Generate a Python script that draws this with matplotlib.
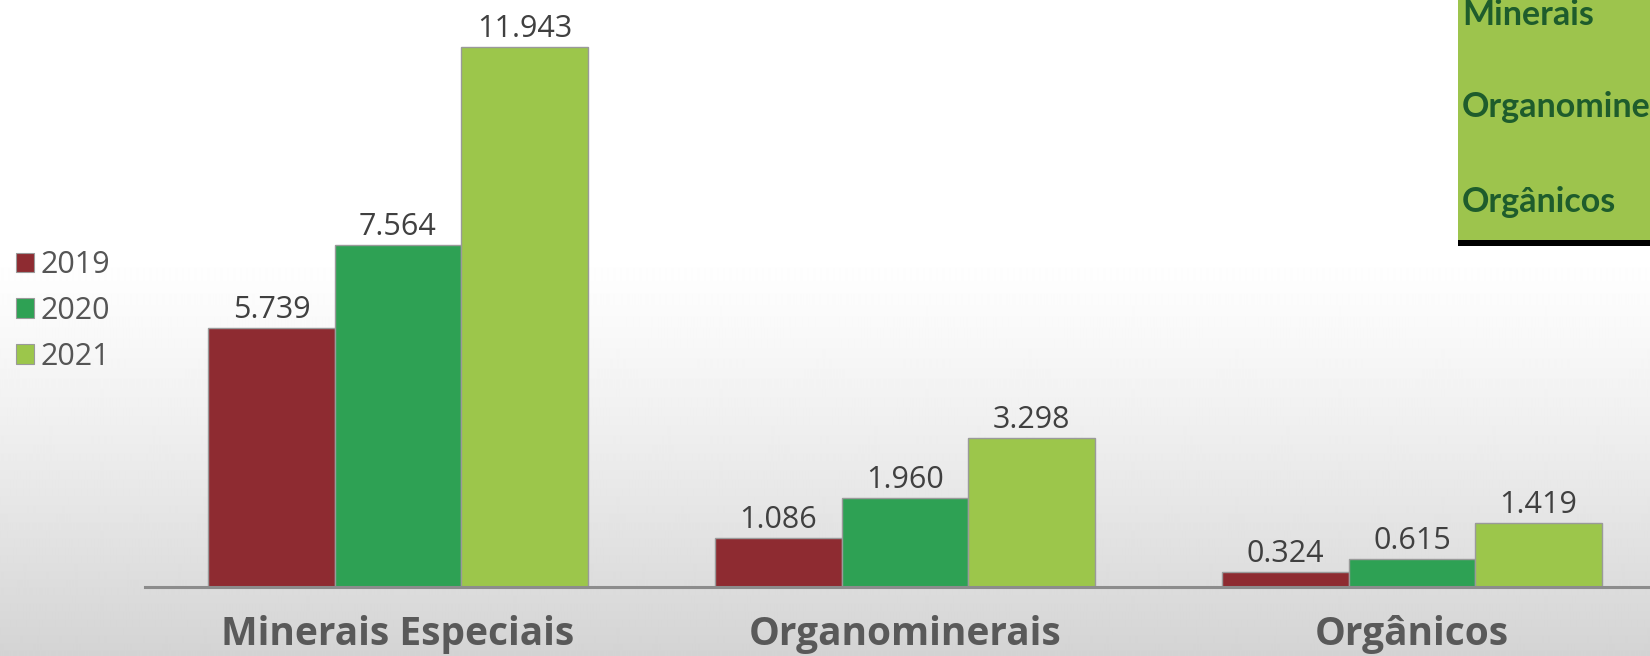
import numpy as np
import matplotlib
matplotlib.use("Agg")
import matplotlib.pyplot as plt
from matplotlib.patches import Rectangle, Patch

# data
categories = ["Minerais Especiais", "Organominerais", "Orgânicos"]
years = ["2019", "2020", "2021"]
v2019 = [5.739, 1.086, 0.324]
v2020 = [7.564, 1.960, 0.615]
v2021 = [11.943, 3.298, 1.419]
box_labels = ["Minerais", "Organominerais", "Orgânicos"]

colors = ["#8E2B31", "#2EA154", "#9CC64B"]

W, H = 1650, 656
fig = plt.figure(figsize=(W / 100, H / 100), dpi=100)
ax = fig.add_axes([0, 0, 1, 1])

# map data to pixels: group spacing 507 px, 45.18 px per unit
px_x = 507.0
px_y = 539.6 / 11.943
x0 = 398.0
base = 587.0
xlim = (-x0 / px_x, (W - x0) / px_x)
ylim = (-(H - base) / px_y, base / px_y)

# background: white on top, light gray towards the bottom
rows = np.ones(H)
start = 250
rows[start:] = 1.0 - 0.17 * np.linspace(0, 1, H - start) ** 1.2
bg = np.repeat(rows[:, None], 8, axis=1)
ax.imshow(bg, extent=[xlim[0], xlim[1], ylim[0], ylim[1]], cmap="gray",
          vmin=0, vmax=1, aspect="auto", zorder=0, interpolation="bilinear")

x = np.arange(len(categories))
w = 126.5 / px_x
series = [v2019, v2020, v2021]
for i, (vals, c) in enumerate(zip(series, colors)):
    xs = x + (i - 1) * w
    ax.bar(xs, vals, width=w, color=c, edgecolor="#9a9a9a", linewidth=1.0, zorder=2)
    for xi, v in zip(xs, vals):
        ax.annotate(f"{v:.3f}", (xi, v), xytext=(0, 10), textcoords="offset pixels",
                    ha="center", va="baseline", fontsize=22, family="Open Sans",
                    color="#404040", zorder=4)

ax.axhline(0, xmin=145 / W, xmax=1, color="#8c8c8c", linewidth=2.2, zorder=3)

for xi, cat in zip(x, categories):
    ax.annotate(cat, (xi, 0), xytext=(0, -(645 - base)), textcoords="offset pixels",
                ha="center", va="baseline", fontsize=28, family="Open Sans",
                fontweight="bold", color="#595959", zorder=4)

ax.set_xlim(*xlim)
ax.set_ylim(*ylim)
ax.axis("off")

handles = [Patch(facecolor=c, edgecolor="#9a9a9a", linewidth=0.8) for c in colors]
leg = ax.legend(handles, years, loc="upper left", bbox_to_anchor=(16 / W, (H - 250) / H),
                frameon=False, prop={"family": "Open Sans", "size": 22},
                handlelength=0.6, handleheight=0.6, handletextpad=0.2,
                labelspacing=0.52, borderpad=0, borderaxespad=0)
for t in leg.get_texts():
    t.set_color("#555555")

# top right box
fig.patches.append(Rectangle((1458 / W, (H - 240) / H), (W - 1458) / W, 240 / H,
                             transform=fig.transFigure, facecolor="#9DC44D",
                             edgecolor="none", zorder=5))
fig.patches.append(Rectangle((1458 / W, (H - 246) / H), (W - 1458) / W, 6 / H,
                             transform=fig.transFigure, facecolor="black",
                             edgecolor="none", zorder=5))
for lab, yb in zip(box_labels, [25, 117, 212]):
    fig.text(1462 / W, (H - yb) / H, lab, ha="left", va="baseline", fontsize=24.5,
             family="Lato", fontweight="bold", color="#1E5C2C", zorder=6)

fig.savefig("out.png", dpi=100)
